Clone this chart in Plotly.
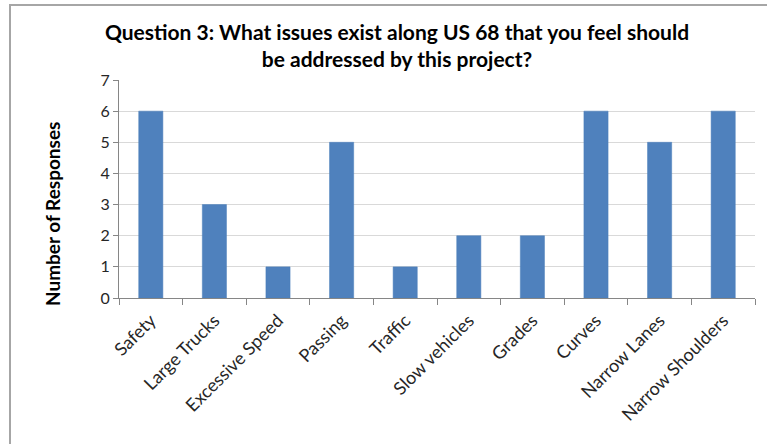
import plotly.graph_objects as go

categories = ["Safety", "Large Trucks", "Excessive Speed", "Passing", "Traffic",
              "Slow vehicles", "Grades", "Curves", "Narrow Lanes", "Narrow Shoulders"]
responses = [6, 3, 1, 5, 1, 2, 2, 6, 5, 6]
y_ticks = [0, 1, 2, 3, 4, 5, 6, 7]

W, H = 767, 444
L, R, T, B = 119, 12, 80, 146
pw, ph = W - L - R, H - T - B

def px(x):
    return (x - L) / pw

def py(y):
    return (H - B - y) / ph

FONT = "Lato"

fig = go.Figure(go.Bar(
    x=categories, y=responses,
    marker=dict(color="#4F81BD", line=dict(color="#4A7EBB", width=0.5)),
    width=0.38,
))

fig.update_layout(
    width=W, height=H,
    margin=dict(l=L, r=R, t=T, b=B, autoexpand=False),
    paper_bgcolor="white", plot_bgcolor="white",
    showlegend=False,
    font=dict(family=FONT, color="#262626", size=13),
    title=dict(
        text="<b>Question 3: What issues exist along US 68 that you feel should<br>be addressed by this project?</b>",
        x=397 / W, xanchor="center", y=1 - 40 / H, yanchor="top",
        font=dict(family=FONT, size=21, color="#000000"),
    ),
    xaxis=dict(
        tickangle=-45, showgrid=False, showline=True, linecolor="#868686", linewidth=1,
        ticks="outside", ticklen=6, tickcolor="#868686", tickson="boundaries",
        tickfont=dict(family=FONT, size=18, color="#262626"), ticklabelstandoff=4,
        fixedrange=True, automargin=False,
    ),
    yaxis=dict(
        range=[0, 7], tickvals=y_ticks, showgrid=True, gridcolor="#D9D9D9", gridwidth=1,
        showline=True, linecolor="#868686", linewidth=1, ticks="outside", ticklen=5,
        tickcolor="#868686", zeroline=False,
        tickfont=dict(family=FONT, size=16, color="#262626"),
        fixedrange=True, automargin=False,
    ),
    shapes=[dict(type="rect", xref="paper", yref="paper",
                 x0=px(10), x1=px(790), y0=py(470), y1=py(5),
                 line=dict(color="#A6A6A6", width=2), layer="below")],
    annotations=[dict(text="<b>Number of Responses</b>", xref="paper", yref="paper",
                      x=px(52), y=py(214), textangle=-90, showarrow=False,
                      xanchor="center", yanchor="middle",
                      font=dict(family=FONT, size=19, color="#000000"))],
)

fig.write_html("out.html", config={"displayModeBar": False},
               post_script="document.body.style.margin='0px';")
